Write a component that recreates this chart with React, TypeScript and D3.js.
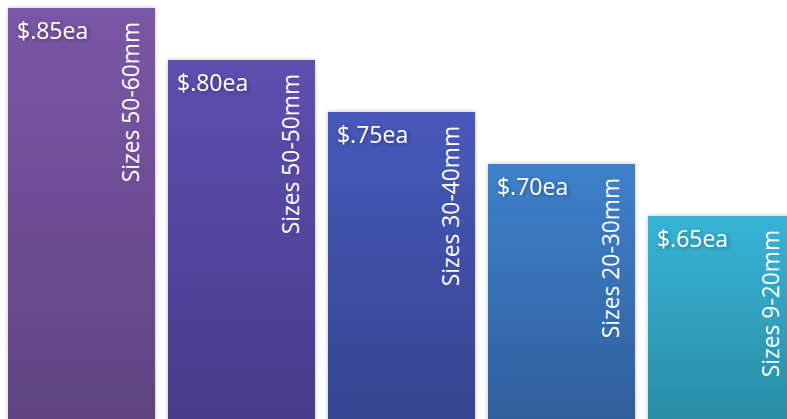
import React, { useEffect, useRef } from 'react'
import * as d3 from 'd3'

const prices = ['$.85ea', '$.80ea', '$.75ea', '$.70ea', '$.65ea']
const values = [85, 80, 75, 70, 65]
const sizes = [
  'Sizes 50-60mm',
  'Sizes 50-50mm',
  'Sizes 30-40mm',
  'Sizes 20-30mm',
  'Sizes 9-20mm',
]
const topColors = ['#7b56a7', '#5e4fb0', '#4858ba', '#3e81cc', '#37b4d7']
const bottomColors = ['#5f4380', '#47398a', '#35448f', '#2f5e9b', '#2a8ba4']

const App: React.FC = () => {
  const svgRef = useRef<SVGSVGElement | null>(null)

  useEffect(() => {
    if (!svgRef.current) return
    const width = 787
    const height = 419
    const svg = d3.select(svgRef.current)
    svg.selectAll('*').remove()
    svg
      .attr('width', width)
      .attr('height', height)
      .attr('viewBox', [0, 0, width, height])
      .style('position', 'absolute')
      .style('left', '0px')
      .style('top', '0px')
      .style('background', '#fff')

    const x = d3
      .scaleBand<number>()
      .domain(d3.range(values.length))
      .range([8, 795])
      .paddingInner(0.081)
      .paddingOuter(0)

    const y = d3.scaleLinear().domain([45, 85]).range([424, 8])

    const defs = svg.append('defs')
    values.forEach((_, i) => {
      const g = defs
        .append('linearGradient')
        .attr('id', `grad${i}`)
        .attr('x1', 0)
        .attr('y1', 0)
        .attr('x2', 0)
        .attr('y2', 1)
      g.append('stop').attr('offset', '0%').attr('stop-color', topColors[i])
      g.append('stop').attr('offset', '100%').attr('stop-color', bottomColors[i])
    })

    const barShadow = defs
      .append('filter')
      .attr('id', 'barShadow')
      .attr('x', '-10%')
      .attr('y', '-10%')
      .attr('width', '120%')
      .attr('height', '120%')
    barShadow
      .append('feDropShadow')
      .attr('dx', 0)
      .attr('dy', 0)
      .attr('stdDeviation', 2)
      .attr('flood-color', '#000')
      .attr('flood-opacity', 0.25)

    const textShadow = defs
      .append('filter')
      .attr('id', 'textShadow')
      .attr('x', '-20%')
      .attr('y', '-40%')
      .attr('width', '140%')
      .attr('height', '180%')
    textShadow
      .append('feDropShadow')
      .attr('dx', 1.5)
      .attr('dy', 1.5)
      .attr('stdDeviation', 2)
      .attr('flood-color', '#000')
      .attr('flood-opacity', 0.35)

    const bars = svg
      .append('g')
      .selectAll('g')
      .data(values)
      .join('g')

    bars
      .append('rect')
      .attr('x', (_, i) => x(i)!)
      .attr('y', d => y(d))
      .attr('width', x.bandwidth())
      .attr('height', d => y(45) - y(d))
      .attr('fill', (_, i) => `url(#grad${i})`)
      .attr('filter', 'url(#barShadow)')

    bars
      .append('text')
      .attr('x', (_, i) => x(i)! + 9)
      .attr('y', d => y(d) + 31)
      .attr('fill', '#fff')
      .attr('font-family', '"Open Sans", sans-serif')
      .attr('font-size', 23)
      .attr('filter', 'url(#textShadow)')
      .text((_, i) => prices[i])

    bars
      .append('text')
      .attr(
        'transform',
        (d, i) => `translate(${x(i)! + x.bandwidth() - 16},${y(d) + 14}) rotate(-90)`,
      )
      .attr('text-anchor', 'end')
      .attr('fill', '#fff')
      .attr('font-family', '"Open Sans", sans-serif')
      .attr('font-size', 22.8)
      .text((_, i) => sizes[i])
  }, [])

  return <svg ref={svgRef}></svg>
}

export default App
